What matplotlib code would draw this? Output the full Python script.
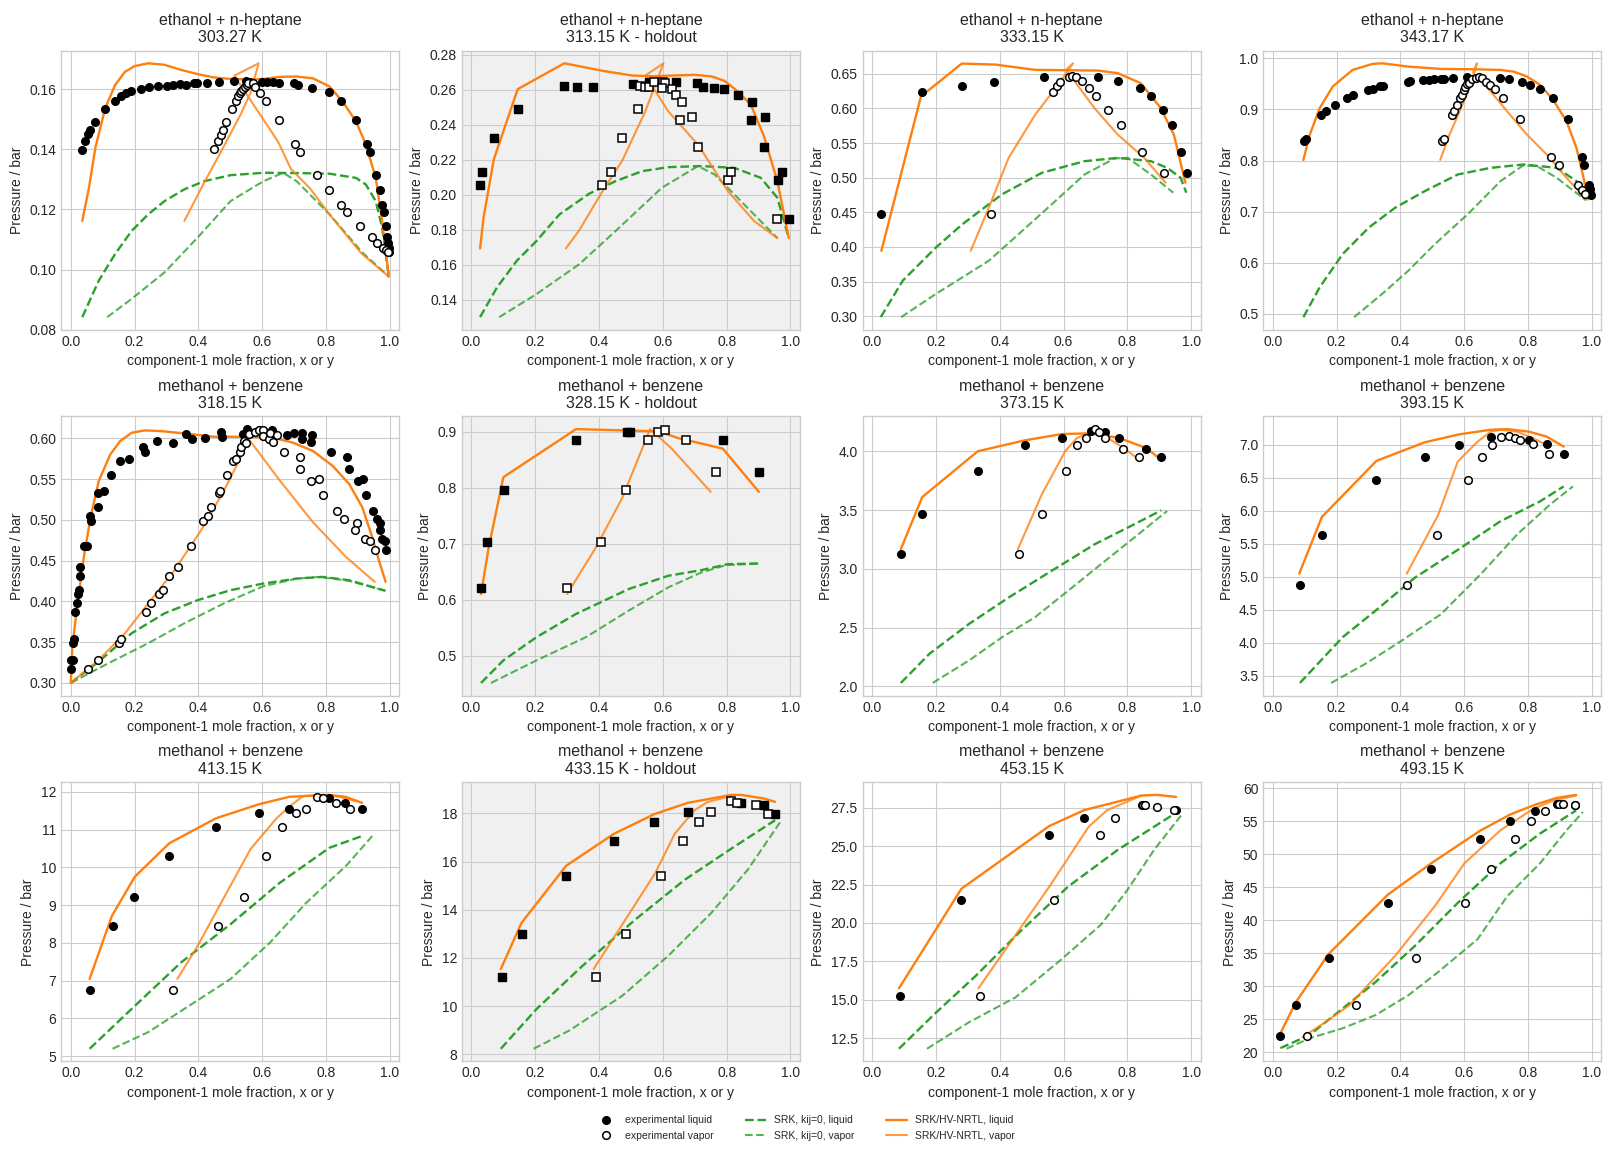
import matplotlib.pyplot as plt
import numpy as np

plt.style.use('seaborn-v0_8-whitegrid')

# ---- ethanol + n-heptane 303.27 K ----
liq_1 = [(0.036, 0.1399), (0.044, 0.1429), (0.055, 0.1451), (0.060, 0.1465), (0.076, 0.1492),
         (0.107, 0.1535), (0.138, 0.1561), (0.157, 0.1576), (0.172, 0.1588), (0.188, 0.1594),
         (0.220, 0.1601), (0.244, 0.1606), (0.272, 0.1611), (0.303, 0.1611), (0.320, 0.1614),
         (0.341, 0.1618), (0.360, 0.1615), (0.387, 0.1622), (0.396, 0.1622), (0.427, 0.1622),
         (0.465, 0.1624), (0.511, 0.1628), (0.548, 0.1628), (0.563, 0.1623), (0.599, 0.1624),
         (0.615, 0.1624), (0.633, 0.1624), (0.654, 0.1622), (0.699, 0.1619), (0.713, 0.1615),
         (0.756, 0.1604), (0.808, 0.1590), (0.847, 0.1561), (0.894, 0.1499), (0.930, 0.1419),
         (0.939, 0.1390), (0.958, 0.1316), (0.970, 0.1265), (0.976, 0.1214), (0.981, 0.1191),
         (0.989, 0.1145), (0.992, 0.1109), (0.995, 0.1087), (0.997, 0.1071), (0.999, 0.1060)]
vap_1 = [(0.449, 0.1400), (0.462, 0.1429), (0.472, 0.1449), (0.478, 0.1465), (0.487, 0.1492),
         (0.505, 0.1535), (0.517, 0.1561), (0.524, 0.1576), (0.529, 0.1588), (0.535, 0.1594),
         (0.540, 0.1601), (0.545, 0.1608), (0.551, 0.1614), (0.556, 0.1620), (0.571, 0.1622),
         (0.579, 0.1606), (0.594, 0.1588), (0.613, 0.1561), (0.653, 0.1499), (0.702, 0.1419),
         (0.720, 0.1390), (0.772, 0.1316), (0.811, 0.1265), (0.848, 0.1214), (0.866, 0.1191),
         (0.907, 0.1145), (0.943, 0.1109), (0.959, 0.1089), (0.979, 0.1071), (0.987, 0.1065),
         (0.995, 0.1057)]
srk_liq_1 = [(0.036, 0.0842), (0.088, 0.0964), (0.139, 0.1052), (0.191, 0.1129), (0.243, 0.1184),
             (0.294, 0.1228), (0.356, 0.1267), (0.418, 0.1294), (0.501, 0.1314), (0.604, 0.1322),
             (0.708, 0.1321), (0.811, 0.1319), (0.894, 0.1305), (0.925, 0.1283), (0.956, 0.1228),
             (0.976, 0.1140), (0.997, 0.0977)]
srk_vap_1 = [(0.114, 0.0842), (0.191, 0.0903), (0.294, 0.0991), (0.398, 0.1107), (0.501, 0.1228),
             (0.604, 0.1294), (0.666, 0.1322), (0.708, 0.1294), (0.811, 0.1184), (0.914, 0.1057),
             (0.997, 0.0977)]
hv_liq_1 = [(0.036, 0.1162), (0.057, 0.1272), (0.077, 0.1405), (0.108, 0.1537), (0.139, 0.1614),
            (0.170, 0.1658), (0.201, 0.1677), (0.243, 0.1686), (0.294, 0.1681), (0.346, 0.1664),
            (0.398, 0.1650), (0.449, 0.1639), (0.501, 0.1634), (0.563, 0.1632), (0.604, 0.1634),
            (0.656, 0.1641), (0.708, 0.1642), (0.759, 0.1636), (0.811, 0.1609), (0.852, 0.1559),
            (0.894, 0.1493), (0.925, 0.1416), (0.956, 0.1305), (0.976, 0.1162), (0.997, 0.0977)]
hv_vap_1 = [(0.356, 0.1162), (0.418, 0.1289), (0.480, 0.1410), (0.532, 0.1515), (0.563, 0.1587),
            (0.589, 0.1686), (0.513, 0.1645), (0.550, 0.1585), (0.600, 0.1505), (0.650, 0.1425),
            (0.690, 0.1335), (0.750, 0.1270), (0.810, 0.1185), (0.860, 0.1120), (0.910, 0.1055),
            (0.960, 0.1010), (0.997, 0.0977)]

# ---- ethanol + n-heptane 313.15 K (holdout) ----
liq_2 = [(0.027, 0.2054), (0.033, 0.2128), (0.070, 0.2327), (0.145, 0.2492), (0.291, 0.2623),
         (0.331, 0.2618), (0.381, 0.2618), (0.505, 0.2635), (0.557, 0.2644), (0.641, 0.2644),
         (0.706, 0.2640), (0.725, 0.2618), (0.759, 0.2612), (0.793, 0.2606), (0.837, 0.2572),
         (0.880, 0.2532), (0.876, 0.2426), (0.921, 0.2447), (0.917, 0.2276), (0.961, 0.2082),
         (0.974, 0.2128), (0.995, 0.1860)]
vap_2 = [(0.408, 0.2054), (0.439, 0.2128), (0.473, 0.2327), (0.523, 0.2492), (0.529, 0.2623),
         (0.543, 0.2618), (0.556, 0.2618), (0.573, 0.2644), (0.599, 0.2644), (0.606, 0.2640),
         (0.598, 0.2612), (0.630, 0.2606), (0.641, 0.2572), (0.661, 0.2532), (0.653, 0.2426),
         (0.690, 0.2447), (0.709, 0.2276), (0.803, 0.2082), (0.815, 0.2128), (0.958, 0.1860)]
srk_liq_2 = [(0.027, 0.1300), (0.080, 0.1470), (0.142, 0.1622), (0.204, 0.1736), (0.276, 0.1888),
             (0.369, 0.2006), (0.452, 0.2078), (0.535, 0.2135), (0.617, 0.2158), (0.721, 0.2164),
             (0.824, 0.2154), (0.907, 0.2097), (0.959, 0.1983), (0.995, 0.1752)]
srk_vap_2 = [(0.087, 0.1300), (0.204, 0.1432), (0.338, 0.1603), (0.452, 0.1793), (0.597, 0.2040),
             (0.710, 0.2164), (0.762, 0.2116), (0.824, 0.2002), (0.959, 0.1752)]
hv_liq_2 = [(0.027, 0.1693), (0.038, 0.1870), (0.070, 0.2202), (0.145, 0.2604), (0.291, 0.2752),
            (0.411, 0.2709), (0.504, 0.2682), (0.566, 0.2678), (0.700, 0.2686), (0.752, 0.2677),
            (0.793, 0.2652), (0.835, 0.2591), (0.876, 0.2515), (0.917, 0.2335), (0.959, 0.2078),
            (0.995, 0.1752)]
hv_vap_2 = [(0.296, 0.1693), (0.338, 0.1797), (0.411, 0.2021), (0.473, 0.2196), (0.545, 0.2477),
            (0.602, 0.2752), (0.545, 0.2682), (0.617, 0.2477), (0.710, 0.2287), (0.804, 0.2021),
            (0.886, 0.1850), (0.959, 0.1752)]

# ---- ethanol + n-heptane 333.15 K ----
liq_3 = [(0.029, 0.4472), (0.156, 0.6241), (0.281, 0.6327), (0.383, 0.6385), (0.539, 0.6457),
         (0.707, 0.6457), (0.772, 0.6399), (0.840, 0.6299), (0.874, 0.6184), (0.912, 0.5982),
         (0.940, 0.5767), (0.968, 0.5378), (0.987, 0.5062)]
vap_3 = [(0.374, 0.4472), (0.567, 0.6241), (0.579, 0.6327), (0.589, 0.6385), (0.617, 0.6457),
         (0.627, 0.6470), (0.638, 0.6457), (0.657, 0.6399), (0.679, 0.6299), (0.701, 0.6184),
         (0.738, 0.5982), (0.781, 0.5767), (0.847, 0.5378), (0.915, 0.5062)]
srk_liq_3 = [(0.027, 0.2986), (0.096, 0.3513), (0.200, 0.3992), (0.283, 0.4328), (0.407, 0.4760),
             (0.532, 0.5071), (0.666, 0.5239), (0.770, 0.5287), (0.874, 0.5239), (0.925, 0.5143),
             (0.967, 0.5000), (0.985, 0.4784)]
srk_vap_3 = [(0.091, 0.2986), (0.200, 0.3322), (0.283, 0.3561), (0.366, 0.3801), (0.459, 0.4184),
             (0.563, 0.4616), (0.666, 0.5047), (0.760, 0.5278), (0.801, 0.5287), (0.874, 0.5047),
             (0.944, 0.4784)]
hv_liq_3 = [(0.029, 0.3944), (0.153, 0.6174), (0.281, 0.6649), (0.387, 0.6634), (0.511, 0.6558),
            (0.708, 0.6548), (0.770, 0.6510), (0.842, 0.6366), (0.905, 0.6006), (0.946, 0.5623),
            (0.982, 0.4928)]
hv_vap_3 = [(0.309, 0.3944), (0.366, 0.4568), (0.428, 0.5287), (0.511, 0.5910), (0.583, 0.6342),
            (0.630, 0.6653), (0.608, 0.6560), (0.697, 0.6006), (0.770, 0.5623), (0.853, 0.5287),
            (0.920, 0.4928)]

# ---- ethanol + n-heptane 343.17 K ----
liq_4 = [(0.099, 0.8377), (0.103, 0.8429), (0.152, 0.8883), (0.167, 0.8961), (0.194, 0.9091),
         (0.234, 0.9221), (0.253, 0.9286), (0.299, 0.9377), (0.315, 0.9396), (0.337, 0.9455),
         (0.346, 0.9468), (0.423, 0.9539), (0.429, 0.9558), (0.470, 0.9571), (0.489, 0.9584),
         (0.506, 0.9591), (0.528, 0.9591), (0.537, 0.9604), (0.566, 0.9610), (0.609, 0.9636),
         (0.711, 0.9610), (0.739, 0.9597), (0.782, 0.9539), (0.807, 0.9481), (0.838, 0.9403),
         (0.877, 0.9214), (0.924, 0.8818), (0.968, 0.8078), (0.976, 0.7903), (0.990, 0.7519),
         (0.993, 0.7442), (0.996, 0.7364), (0.999, 0.7331)]
vap_4 = [(0.531, 0.8377), (0.536, 0.8429), (0.563, 0.8883), (0.568, 0.8961), (0.578, 0.9091),
         (0.587, 0.9221), (0.593, 0.9286), (0.599, 0.9377), (0.604, 0.9440), (0.610, 0.9490),
         (0.616, 0.9526), (0.626, 0.9597), (0.637, 0.9623), (0.647, 0.9636), (0.657, 0.9610),
         (0.669, 0.9545), (0.681, 0.9481), (0.696, 0.9403), (0.723, 0.9214), (0.776, 0.8818),
         (0.872, 0.8078), (0.897, 0.7903), (0.956, 0.7519), (0.968, 0.7416), (0.980, 0.7338)]
srk_liq_4 = [(0.096, 0.4935), (0.147, 0.5519), (0.219, 0.6169), (0.301, 0.6688), (0.384, 0.7078),
             (0.477, 0.7403), (0.580, 0.7727), (0.683, 0.7857), (0.786, 0.7922), (0.890, 0.7857),
             (0.952, 0.7597), (0.988, 0.7240)]
srk_vap_4 = [(0.255, 0.4935), (0.343, 0.5390), (0.425, 0.5844), (0.508, 0.6364), (0.611, 0.6948),
             (0.714, 0.7597), (0.786, 0.7909), (0.828, 0.7890), (0.890, 0.7662), (0.982, 0.7221)]
hv_liq_4 = [(0.096, 0.8013), (0.116, 0.8506), (0.147, 0.9026), (0.188, 0.9448), (0.250, 0.9773),
            (0.312, 0.9890), (0.343, 0.9903), (0.425, 0.9838), (0.528, 0.9792), (0.632, 0.9786),
            (0.714, 0.9773), (0.755, 0.9740), (0.797, 0.9643), (0.838, 0.9481), (0.879, 0.9188),
            (0.921, 0.8766), (0.952, 0.8247), (0.972, 0.7727), (0.988, 0.7240)]
hv_vap_4 = [(0.525, 0.8013), (0.554, 0.8506), (0.590, 0.9026), (0.621, 0.9481), (0.640, 0.9903),
            (0.628, 0.9720), (0.683, 0.9351), (0.735, 0.8961), (0.797, 0.8506), (0.859, 0.8117),
            (0.921, 0.7662), (0.982, 0.7240)]

# ---- methanol + benzene 318.15 K ----
liq_5 = [(0.000, 0.3171), (0.000, 0.3285), (0.007, 0.3285), (0.008, 0.3496), (0.009, 0.3537),
         (0.014, 0.3866), (0.021, 0.3976), (0.022, 0.4089), (0.026, 0.4138), (0.030, 0.4313),
         (0.030, 0.4427), (0.042, 0.4675), (0.052, 0.4675), (0.063, 0.4984), (0.061, 0.5045),
         (0.086, 0.5154), (0.086, 0.5333), (0.103, 0.5358), (0.127, 0.5553), (0.155, 0.5720),
         (0.183, 0.5744), (0.225, 0.5898), (0.232, 0.5837), (0.269, 0.5963), (0.322, 0.5939),
         (0.360, 0.6053), (0.381, 0.5988), (0.421, 0.6000), (0.471, 0.6081), (0.475, 0.6020),
         (0.540, 0.6049), (0.551, 0.6114), (0.555, 0.6061), (0.631, 0.6106), (0.635, 0.6065),
         (0.679, 0.6037), (0.700, 0.6061), (0.724, 0.6061), (0.724, 0.5988), (0.756, 0.6041),
         (0.754, 0.5955), (0.817, 0.5833), (0.866, 0.5768), (0.873, 0.5622), (0.899, 0.5472),
         (0.917, 0.5500), (0.925, 0.5305), (0.946, 0.5114), (0.959, 0.5016), (0.970, 0.4959),
         (0.970, 0.4878), (0.976, 0.4760), (0.985, 0.4744), (0.988, 0.4626)]
vap_5 = [(0.055, 0.3171), (0.085, 0.3276), (0.150, 0.3496), (0.157, 0.3537), (0.235, 0.3866),
         (0.251, 0.3976), (0.278, 0.4089), (0.290, 0.4138), (0.307, 0.4313), (0.337, 0.4427),
         (0.376, 0.4675), (0.413, 0.4984), (0.430, 0.5045), (0.440, 0.5154), (0.466, 0.5333),
         (0.468, 0.5358), (0.491, 0.5553), (0.507, 0.5720), (0.518, 0.5744), (0.531, 0.5837),
         (0.535, 0.5898), (0.543, 0.5963), (0.548, 0.5939), (0.560, 0.6053), (0.576, 0.6081),
         (0.590, 0.6106), (0.604, 0.6098), (0.604, 0.6033), (0.621, 0.5988), (0.623, 0.6065),
         (0.635, 0.5955), (0.645, 0.6041), (0.668, 0.5833), (0.718, 0.5768), (0.718, 0.5622),
         (0.752, 0.5472), (0.777, 0.5500), (0.790, 0.5305), (0.836, 0.5114), (0.857, 0.5016),
         (0.897, 0.4959), (0.891, 0.4878), (0.921, 0.4760), (0.937, 0.4744), (0.953, 0.4626)]
srk_liq_5 = [(0.000, 0.3000), (0.088, 0.3264), (0.191, 0.3610), (0.294, 0.3854), (0.398, 0.4016),
             (0.501, 0.4138), (0.604, 0.4220), (0.708, 0.4280), (0.790, 0.4301), (0.873, 0.4260),
             (0.987, 0.4130)]
srk_vap_5 = [(0.000, 0.3000), (0.119, 0.3244), (0.243, 0.3488), (0.356, 0.3732), (0.480, 0.3976),
             (0.604, 0.4187), (0.708, 0.4280), (0.780, 0.4301), (0.873, 0.4252), (0.987, 0.4130)]
hv_liq_5 = [(0.000, 0.3000), (0.005, 0.3447), (0.021, 0.3976), (0.041, 0.4545), (0.062, 0.5033),
            (0.088, 0.5480), (0.124, 0.5805), (0.155, 0.5968), (0.191, 0.6069), (0.232, 0.6098),
            (0.284, 0.6089), (0.356, 0.6061), (0.449, 0.6020), (0.553, 0.6020), (0.635, 0.6008),
            (0.697, 0.5947), (0.759, 0.5846), (0.821, 0.5663), (0.873, 0.5439), (0.914, 0.5154),
            (0.945, 0.4789), (0.966, 0.4504), (0.987, 0.4240)]
hv_vap_5 = [(0.000, 0.3000), (0.088, 0.3285), (0.170, 0.3610), (0.243, 0.3976), (0.325, 0.4382),
            (0.408, 0.4870), (0.480, 0.5358), (0.522, 0.5683), (0.558, 0.5990), (0.656, 0.5480),
            (0.759, 0.4972), (0.863, 0.4545), (0.953, 0.4240)]

# ---- methanol + benzene 328.15 K (holdout) ----
liq_6 = [(0.030, 0.6209), (0.049, 0.7027), (0.101, 0.7957), (0.328, 0.8858), (0.488, 0.9000),
         (0.498, 0.9000), (0.790, 0.8858), (0.901, 0.8289)]
vap_6 = [(0.300, 0.6209), (0.405, 0.7027), (0.483, 0.7957), (0.555, 0.8858), (0.586, 0.9000),
         (0.607, 0.9030), (0.672, 0.8858), (0.768, 0.8289)]
srk_liq_6 = [(0.030, 0.4514), (0.100, 0.4917), (0.204, 0.5332), (0.328, 0.5747), (0.493, 0.6191),
             (0.617, 0.6428), (0.721, 0.6529), (0.804, 0.6636), (0.901, 0.6647)]
srk_vap_6 = [(0.061, 0.4514), (0.204, 0.4917), (0.359, 0.5332), (0.493, 0.5806), (0.617, 0.6221),
             (0.721, 0.6487), (0.798, 0.6618), (0.901, 0.6647)]
hv_liq_6 = [(0.030, 0.6102), (0.054, 0.6932), (0.100, 0.8188), (0.328, 0.9047), (0.514, 0.9018),
            (0.586, 0.9006), (0.648, 0.8887), (0.788, 0.8698), (0.901, 0.7927)]
hv_vap_6 = [(0.300, 0.6102), (0.390, 0.6932), (0.473, 0.7821), (0.560, 0.9047), (0.628, 0.8698),
            (0.750, 0.7927)]

# ---- methanol + benzene 373.15 K ----
liq_7 = [(0.092, 3.124), (0.157, 3.463), (0.331, 3.836), (0.478, 4.056), (0.595, 4.116),
         (0.685, 4.175), (0.729, 4.167), (0.775, 4.116), (0.859, 4.023), (0.906, 3.955)]
vap_7 = [(0.459, 3.124), (0.533, 3.463), (0.608, 3.836), (0.642, 4.056), (0.670, 4.116),
         (0.698, 4.189), (0.711, 4.167), (0.729, 4.116), (0.788, 4.023), (0.837, 3.955)]
srk_liq_7 = [(0.090, 2.028), (0.180, 2.277), (0.304, 2.531), (0.429, 2.757), (0.563, 2.983),
             (0.698, 3.209), (0.822, 3.379), (0.906, 3.497)]
srk_vap_7 = [(0.190, 2.028), (0.304, 2.220), (0.408, 2.418), (0.511, 2.588), (0.615, 2.814),
             (0.718, 3.040), (0.822, 3.266), (0.925, 3.492)]
hv_liq_7 = [(0.090, 3.167), (0.157, 3.610), (0.331, 4.000), (0.478, 4.093), (0.595, 4.147),
            (0.685, 4.153), (0.775, 4.113), (0.859, 4.028), (0.906, 3.929)]
hv_vap_7 = [(0.457, 3.167), (0.532, 3.633), (0.605, 4.000), (0.642, 4.113), (0.672, 4.147),
            (0.698, 4.153), (0.739, 4.113), (0.789, 4.028), (0.837, 3.929)]

# ---- methanol + benzene 393.15 K ----
liq_8 = [(0.085, 4.873), (0.154, 5.627), (0.325, 6.472), (0.476, 6.819), (0.584, 7.000),
         (0.683, 7.121), (0.804, 7.075), (0.859, 7.015), (0.912, 6.864)]
vap_8 = [(0.420, 4.873), (0.516, 5.627), (0.612, 6.472), (0.655, 6.819), (0.686, 7.000),
         (0.714, 7.121), (0.742, 7.136), (0.759, 7.111), (0.776, 7.075), (0.817, 7.015),
         (0.866, 6.864)]
srk_liq_8 = [(0.085, 3.390), (0.219, 4.084), (0.322, 4.486), (0.446, 4.989), (0.590, 5.441),
             (0.714, 5.844), (0.838, 6.145), (0.912, 6.372)]
srk_vap_8 = [(0.183, 3.390), (0.291, 3.682), (0.405, 4.034), (0.528, 4.436), (0.652, 5.040),
             (0.766, 5.643), (0.869, 6.095), (0.941, 6.372)]
hv_liq_8 = [(0.083, 5.049), (0.154, 5.909), (0.325, 6.759), (0.476, 7.040), (0.584, 7.161),
            (0.683, 7.231), (0.735, 7.241), (0.804, 7.201), (0.859, 7.126), (0.912, 6.975)]
hv_vap_8 = [(0.420, 5.049), (0.518, 5.934), (0.580, 6.749), (0.642, 7.050), (0.683, 7.201),
            (0.714, 7.231), (0.766, 7.201), (0.817, 7.101), (0.869, 6.975)]

# ---- methanol + benzene 413.15 K ----
liq_9 = [(0.061, 6.745), (0.132, 8.435), (0.199, 9.227), (0.309, 10.31), (0.455, 11.08),
         (0.589, 11.45), (0.685, 11.55), (0.808, 11.84), (0.861, 11.71), (0.913, 11.55)]
vap_9 = [(0.321, 6.745), (0.463, 8.435), (0.544, 9.227), (0.613, 10.31), (0.662, 11.08),
         (0.706, 11.45), (0.737, 11.55), (0.773, 11.87), (0.792, 11.84), (0.830, 11.71),
         (0.876, 11.55)]
srk_liq_9 = [(0.059, 5.195), (0.191, 6.252), (0.346, 7.484), (0.501, 8.496), (0.656, 9.597),
             (0.811, 10.52), (0.913, 10.83)]
srk_vap_9 = [(0.131, 5.195), (0.243, 5.636), (0.356, 6.252), (0.501, 7.044), (0.625, 8.012),
             (0.739, 9.069), (0.863, 10.04), (0.945, 10.83)]
hv_liq_9 = [(0.059, 7.044), (0.129, 8.717), (0.201, 9.755), (0.309, 10.64), (0.455, 11.30),
            (0.589, 11.67), (0.685, 11.87), (0.808, 11.92), (0.861, 11.87), (0.913, 11.71)]
hv_vap_9 = [(0.334, 7.044), (0.398, 7.924), (0.449, 8.717), (0.563, 10.48), (0.646, 11.31),
            (0.687, 11.62), (0.728, 11.89), (0.790, 11.92), (0.842, 11.87), (0.894, 11.75)]

# ---- methanol + benzene 433.15 K (holdout) ----
liq_10 = [(0.095, 11.23), (0.157, 13.01), (0.297, 15.40), (0.446, 16.84), (0.573, 17.63),
          (0.678, 18.04), (0.846, 18.44), (0.917, 18.33), (0.952, 17.96)]
vap_10 = [(0.390, 11.23), (0.486, 13.01), (0.595, 15.40), (0.663, 16.84), (0.713, 17.63),
          (0.750, 18.04), (0.815, 18.50), (0.834, 18.44), (0.892, 18.33), (0.930, 17.96)]
srk_liq_10 = [(0.092, 8.23), (0.204, 9.88), (0.348, 11.67), (0.514, 13.60), (0.669, 15.25),
              (0.824, 16.62), (0.952, 17.72)]
srk_vap_10 = [(0.195, 8.23), (0.307, 8.99), (0.473, 10.43), (0.617, 12.09), (0.752, 13.87),
              (0.866, 15.66), (0.972, 17.72)]
hv_liq_10 = [(0.092, 11.54), (0.157, 13.46), (0.297, 15.83), (0.446, 17.15), (0.573, 17.97),
             (0.678, 18.44), (0.814, 18.77), (0.846, 18.77), (0.917, 18.62), (0.952, 18.48)]
hv_vap_10 = [(0.383, 11.54), (0.483, 13.60), (0.576, 15.52), (0.638, 17.17), (0.700, 18.14),
             (0.741, 18.48), (0.814, 18.72)]

# ---- methanol + benzene 453.15 K ----
liq_11 = [(0.086, 15.22), (0.280, 21.50), (0.555, 25.71), (0.665, 26.81), (0.845, 27.65),
          (0.953, 27.33)]
vap_11 = [(0.339, 15.22), (0.571, 21.50), (0.714, 25.71), (0.760, 26.81), (0.848, 27.65),
          (0.857, 27.65), (0.893, 27.56), (0.946, 27.33)]
srk_liq_11 = [(0.084, 11.81), (0.201, 14.18), (0.325, 16.56), (0.460, 19.36), (0.615, 22.38),
              (0.770, 24.76), (0.953, 27.18)]
srk_vap_11 = [(0.172, 11.81), (0.304, 13.54), (0.449, 15.15), (0.594, 17.64), (0.718, 19.90),
              (0.801, 22.17), (0.884, 24.76), (0.972, 27.09)]
hv_liq_11 = [(0.084, 15.74), (0.280, 22.23), (0.555, 26.31), (0.665, 27.35), (0.845, 28.30),
             (0.893, 28.34), (0.953, 28.21)]
hv_vap_11 = [(0.333, 15.74), (0.560, 22.50), (0.679, 26.27), (0.737, 27.35), (0.845, 28.30)]

# ---- methanol + benzene 493.15 K ----
liq_12 = [(0.024, 22.55), (0.073, 27.20), (0.175, 34.25), (0.361, 42.65), (0.497, 47.75),
          (0.649, 52.25), (0.745, 55.10), (0.822, 56.60), (0.890, 57.65), (0.948, 57.50)]
vap_12 = [(0.107, 22.55), (0.261, 27.20), (0.448, 34.25), (0.603, 42.65), (0.683, 47.75),
          (0.758, 52.25), (0.809, 55.10), (0.853, 56.60), (0.896, 57.65), (0.909, 57.65),
          (0.946, 57.50)]
srk_liq_12 = [(0.024, 20.65), (0.116, 22.65), (0.219, 26.65), (0.322, 30.65), (0.446, 36.15),
              (0.580, 42.65), (0.714, 48.65), (0.838, 53.15), (0.951, 56.65)]
srk_vap_12 = [(0.043, 20.55), (0.116, 22.15), (0.219, 23.65), (0.322, 25.65), (0.425, 28.65),
              (0.518, 32.15), (0.642, 37.15), (0.735, 43.65), (0.838, 48.65), (0.921, 53.65),
              (0.972, 56.40)]
hv_liq_12 = [(0.024, 22.90), (0.073, 27.65), (0.175, 34.90), (0.361, 43.90), (0.497, 48.65),
             (0.649, 53.55), (0.745, 56.05), (0.822, 57.50), (0.890, 58.55), (0.951, 59.00)]
hv_vap_12 = [(0.093, 22.30), (0.167, 24.65), (0.240, 27.15), (0.384, 34.65), (0.508, 42.15),
             (0.601, 48.65), (0.714, 53.65), (0.817, 56.90), (0.879, 58.15), (0.951, 58.90)]

titles = ['ethanol + n-heptane\n303.27 K', 'ethanol + n-heptane\n313.15 K - holdout',
          'ethanol + n-heptane\n333.15 K', 'ethanol + n-heptane\n343.17 K',
          'methanol + benzene\n318.15 K', 'methanol + benzene\n328.15 K - holdout',
          'methanol + benzene\n373.15 K', 'methanol + benzene\n393.15 K',
          'methanol + benzene\n413.15 K', 'methanol + benzene\n433.15 K - holdout',
          'methanol + benzene\n453.15 K', 'methanol + benzene\n493.15 K']
holdout = [False, True, False, False, False, True, False, False, False, True, False, False]

panels = [
    (liq_1, vap_1, srk_liq_1, srk_vap_1, hv_liq_1, hv_vap_1),
    (liq_2, vap_2, srk_liq_2, srk_vap_2, hv_liq_2, hv_vap_2),
    (liq_3, vap_3, srk_liq_3, srk_vap_3, hv_liq_3, hv_vap_3),
    (liq_4, vap_4, srk_liq_4, srk_vap_4, hv_liq_4, hv_vap_4),
    (liq_5, vap_5, srk_liq_5, srk_vap_5, hv_liq_5, hv_vap_5),
    (liq_6, vap_6, srk_liq_6, srk_vap_6, hv_liq_6, hv_vap_6),
    (liq_7, vap_7, srk_liq_7, srk_vap_7, hv_liq_7, hv_vap_7),
    (liq_8, vap_8, srk_liq_8, srk_vap_8, hv_liq_8, hv_vap_8),
    (liq_9, vap_9, srk_liq_9, srk_vap_9, hv_liq_9, hv_vap_9),
    (liq_10, vap_10, srk_liq_10, srk_vap_10, hv_liq_10, hv_vap_10),
    (liq_11, vap_11, srk_liq_11, srk_vap_11, hv_liq_11, hv_vap_11),
    (liq_12, vap_12, srk_liq_12, srk_vap_12, hv_liq_12, hv_vap_12),
]

fig, axes = plt.subplots(3, 4, figsize=(16.11, 11.5), dpi=100)
fig.subplots_adjust(left=0.038, right=0.994, top=0.956, bottom=0.077, wspace=0.185, hspace=0.31)

for ax, title, hold, (liq, vap, srk_l, srk_v, hv_l, hv_v) in zip(axes.flat, titles, holdout, panels):
    liq, vap = np.array(liq), np.array(vap)
    srk_l, srk_v = np.array(srk_l), np.array(srk_v)
    hv_l, hv_v = np.array(hv_l), np.array(hv_v)
    mk = 's' if hold else 'o'
    if hold:
        ax.set_facecolor('#f0f0f0')
    ax.plot(liq[:, 0], liq[:, 1], mk, color='black', ms=5.5, zorder=3, label='experimental liquid')
    ax.plot(vap[:, 0], vap[:, 1], mk, mfc='white', mec='black', mew=1.1, ms=5.5, zorder=3,
            label='experimental vapor')
    ax.plot(srk_l[:, 0], srk_l[:, 1], '--', color='#2ca02c', lw=1.7, label='SRK, kij=0, liquid')
    ax.plot(srk_v[:, 0], srk_v[:, 1], '--', color='#2ca02c', alpha=0.8, lw=1.5,
            label='SRK, kij=0, vapor')
    ax.plot(hv_l[:, 0], hv_l[:, 1], '-', color='#ff7f0e', lw=1.7, label='SRK/HV-NRTL, liquid')
    ax.plot(hv_v[:, 0], hv_v[:, 1], '-', color='#ff7f0e', alpha=0.8, lw=1.5,
            label='SRK/HV-NRTL, vapor')
    ax.set_xlim(-0.03, 1.03)
    ax.set_title(title, fontsize=11.5, color='.15')
    ax.set_xlabel('component-1 mole fraction, x or y', fontsize=10)
    ax.set_ylabel('Pressure / bar', fontsize=10)
    ax.tick_params(labelsize=10)

handles, labels = axes.flat[0].get_legend_handles_labels()
fig.legend(handles, labels, loc='lower center', ncol=3, fontsize=7.5, frameon=False,
           bbox_to_anchor=(0.5, 0.0), columnspacing=3.0)

plt.savefig('out.png')
